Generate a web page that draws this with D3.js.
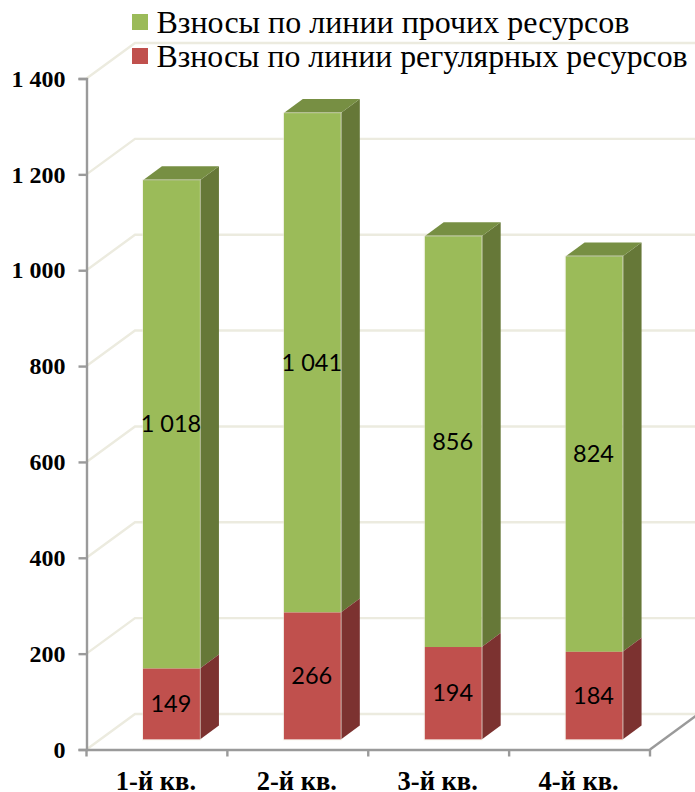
<!DOCTYPE html>
<html><head><meta charset="utf-8">
<script src="https://cdn.jsdelivr.net/npm/d3@7/dist/d3.min.js"></script>
<style>
html,body{margin:0;padding:0;background:#fff;overflow:hidden}
svg{display:block}
.tick text{font-family:"Liberation Serif",serif;font-weight:700;fill:#000}
</style></head><body>
<svg id="c" width="695" height="792"></svg>
<script>
const categories = ["1-й кв.","2-й кв.","3-й кв.","4-й кв."];
const regular = [149,266,194,184];
const other = [1018,1041,856,824];
const seriesNames = ["Взносы по линии прочих ресурсов","Взносы по линии регулярных ресурсов"];
const yTicks = [0,200,400,600,800,1000,1200,1400];

const W=695,H=792;
const svg=d3.select("#c");
const y=d3.scaleLinear().domain([0,1400]).range([749.5,78.5]);
const x=d3.scaleBand().domain(categories).range([86.5,650]);
const wall={dx:48.5,dy:-35.5};
const bar={dx:14.5,dy:-10,w:57,ox:19,oy:-14};
const fmt=v=>d3.format(",")(v).replace(/,/g," ");

// gridlines + floor
const gridCol="#ecebdf",axisCol="#9a9a9a";
const grid=svg.append("g").attr("fill","none").attr("stroke",gridCol).attr("stroke-width",2.4);
yTicks.forEach(t=>{
  const p=d3.path();
  p.moveTo(86.5,y(t));
  p.lineTo(86.5+wall.dx,y(t)+wall.dy);
  p.lineTo(W+2,y(t)+wall.dy);
  grid.append("path").attr("d",p.toString());
});

// floor right edge
const lineG=svg.append("g").attr("fill","none").attr("stroke",axisCol).attr("stroke-width",2.4);
lineG.append("line").attr("x1",x.range()[1]).attr("y1",y(0)).attr("x2",x.range()[1]+wall.dx).attr("y2",y(0)+wall.dy);

// axes
const yAxis=svg.append("g").attr("transform","translate(86.5,0)")
  .call(d3.axisLeft(y).tickValues(yTicks).tickFormat(fmt).tickSize(8).tickPadding(13));
const xAxis=svg.append("g").attr("transform",`translate(0,${y(0)})`)
  .call(d3.axisBottom(x).tickSize(0).tickPadding(21.5));
yAxis.selectAll(".tick text").attr("font-size",24);
xAxis.selectAll(".tick text").attr("font-size",26.5);
[yAxis,xAxis].forEach(a=>{
  a.selectAll(".domain").attr("stroke",axisCol).attr("stroke-width",2.4);
  a.selectAll(".tick line").attr("stroke",axisCol).attr("stroke-width",2.4);
});
xAxis.selectAll(".tick text").attr("dx",-1);
xAxis.selectAll(".edge").data([...categories.map(c=>x(c)),x.range()[1]]).enter().append("line")
  .attr("class","edge").attr("x1",d=>d).attr("x2",d=>d).attr("y1",0).attr("y2",7)
  .attr("stroke",axisCol).attr("stroke-width",2.4);

// bars
const base=categories.map((c,i)=>({c,i,a:regular[i],b:other[i]}));
const edge="#f1efe2";
function poly(g,pts,fill){
  g.append("polygon").attr("points",pts.map(p=>p.join(",")).join(" ")).attr("fill",fill);
}
function segment(g,xl,top,bot,front,side){
  const xr=xl+bar.w;
  poly(g,[[xr,top],[xr+bar.ox,top+bar.oy],[xr+bar.ox,bot+bar.oy],[xr,bot]],side);
  g.append("rect").attr("x",xl).attr("y",top).attr("width",bar.w).attr("height",bot-top).attr("fill",front);
}
base.forEach(d=>{
  const g=svg.append("g");
  const xl=x(d.c)+(x.bandwidth()-bar.w)/2+bar.dx;
  const y0=y(0)+bar.dy,y1=y(d.a)+bar.dy+.5,y2=y(d.a+d.b)+bar.dy;
  segment(g,xl,y2,y1,"#9bbb59","#667838");
  poly(g,[[xl,y2],[xl+bar.ox,y2+bar.oy],[xl+bar.w+bar.ox,y2+bar.oy],[xl+bar.w,y2]],"#778f43");
  segment(g,xl,y1,y0,"#c0504d","#7c3230");
  g.append("rect").attr("x",xl-.5).attr("y",y2-.5).attr("width",bar.w+1).attr("height",y0-y2+1)
    .attr("fill","none").attr("stroke",edge).attr("stroke-opacity",.55).attr("stroke-width",1);
  const lab=(t,cy)=>g.append("text").attr("x",xl+bar.w/2-.5).attr("y",cy-1).attr("text-anchor","middle")
    .attr("dominant-baseline","central").attr("font-family","Lato,'Open Sans',sans-serif")
    .attr("font-size",23.5).attr("fill","#000").text(t);
  lab(fmt(d.a),(y0+y1)/2);
  lab(fmt(d.b),(y1+y2)/2);
});

// legend
const legend=svg.append("g");
[["#9bbb59",14,33,32],["#c0504d",48,67,31.8]].forEach((l,i)=>{
  legend.append("rect").attr("x",132).attr("y",l[1]).attr("width",16).attr("height",16).attr("fill",l[0]);
  legend.append("text").attr("x",156.5).attr("y",l[2]).attr("font-family","'Liberation Serif',serif")
    .attr("font-size",l[3]).attr("fill","#000").text(seriesNames[i]);
});
</script></body></html>
